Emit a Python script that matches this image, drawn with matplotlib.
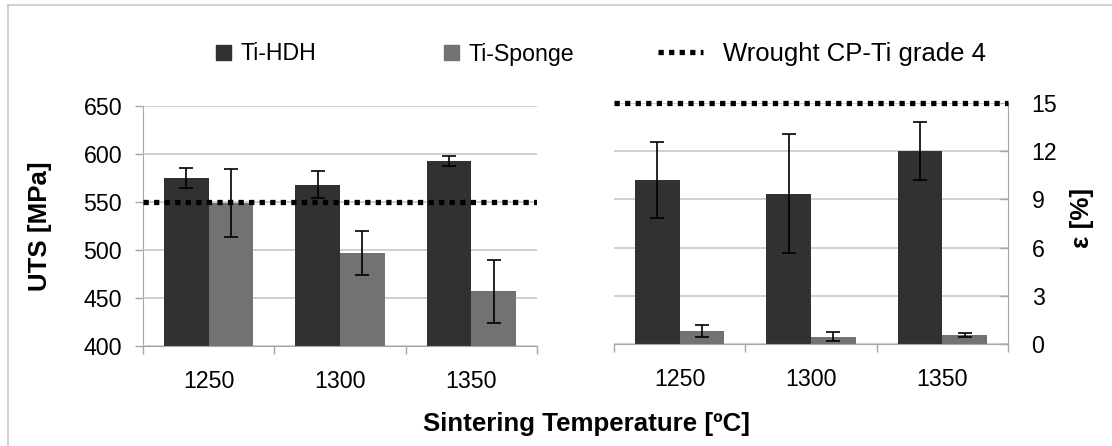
import numpy as np
import matplotlib
matplotlib.use("Agg")
import matplotlib.pyplot as plt
from matplotlib.lines import Line2D
from matplotlib.patches import Patch

plt.rcParams['font.family'] = ['Liberation Sans', 'DejaVu Sans']

# data
temps = ['1250', '1300', '1350']
uts_hdh = [575, 568, 593]
uts_hdh_err = [10, 14, 5]
uts_sponge = [549, 497, 457]
uts_sponge_err = [35, 23, 33]
eps_hdh = [10.2, 9.35, 12.0]
eps_hdh_err = [2.35, 3.7, 1.8]
eps_sponge = [0.82, 0.48, 0.58]
eps_sponge_err = [0.37, 0.26, 0.15]
wrought_uts = 550
wrought_eps = 15

c_hdh = '#313131'
c_sponge = '#727272'
c_grid = '#c4c4c4'
c_spine = '#a6a6a6'
fs = 16.7
fs_lab = 18.6

W, H = 1112, 446
fig = plt.figure(figsize=(W / 100, H / 100), dpi=100)
ax1 = fig.add_axes([143 / W, 1 - 346 / H, 394 / W, 240 / H])
ax2 = fig.add_axes([614 / W, 1 - 344.3 / H, 394 / W, 241.5 / H])

x = np.arange(len(temps))
bw = 0.34
ek = dict(elinewidth=1.2, capthick=1.2, ecolor='black')


def style(ax, side):
    ax.set_xlim(-0.5, len(temps) - 0.5)
    ax.set_xticks(x)
    ax.set_xticklabels(temps)
    ax.set_xticks(np.arange(-0.5, len(temps)), minor=True)
    ax.tick_params(axis='x', which='major', length=0, pad=17, labelsize=fs)
    ax.tick_params(axis='x', which='minor', length=6, width=1, color=c_spine, direction='out')
    ax.grid(axis='y', color=c_grid, lw=1.1)
    ax.set_axisbelow(True)
    for s in ['top', 'left', 'right']:
        ax.spines[s].set_visible(False)
    ax.spines['bottom'].set_color(c_spine)
    ax.spines[side].set_visible(True)
    ax.spines[side].set_color(c_spine)
    ax.spines[side].set_zorder(0.5)


# UTS panel
ax1.bar(x - bw / 2, uts_hdh, bw, color=c_hdh, yerr=uts_hdh_err, capsize=5, error_kw=ek, zorder=2)
ax1.bar(x + bw / 2, uts_sponge, bw, color=c_sponge, yerr=uts_sponge_err, capsize=5, error_kw=ek, zorder=2)
ax1.axhline(wrought_uts, color='black', lw=3.8, ls=(0, (1, 1)), zorder=3)
ax1.set_ylim(400, 650)
ax1.set_yticks(np.arange(400, 651, 50))
style(ax1, 'left')
ax1.tick_params(axis='y', length=6, width=1, color=c_spine, direction='out', pad=9, labelsize=fs)

# elongation panel
ax2.bar(x - bw / 2, eps_hdh, bw, color=c_hdh, yerr=eps_hdh_err, capsize=5, error_kw=ek, zorder=2)
ax2.bar(x + bw / 2, eps_sponge, bw, color=c_sponge, yerr=eps_sponge_err, capsize=5, error_kw=ek, zorder=2)
ax2.axhline(wrought_eps, color='black', lw=3.8, ls=(0, (1, 1)), zorder=3, clip_on=False)
ax2.set_ylim(0, 15)
ax2.set_yticks(np.arange(0, 16, 3))
style(ax2, 'right')
ax2.yaxis.tick_right()
ax2.tick_params(axis='y', length=6, width=1, color=c_spine, direction='in', pad=17, labelsize=fs)

# axis titles
fig.text(40 / W, 1 - 226 / H, 'UTS [MPa]', fontsize=fs_lab, fontweight='bold',
         rotation=90, ha='center', va='center')
fig.text(1082 / W, 1 - 218 / H, 'ε [%]', fontsize=fs_lab, fontweight='bold',
         rotation=90, ha='center', va='center')
fig.text(586 / W, 1 - 424 / H, 'Sintering Temperature [ºC]', fontsize=fs_lab, fontweight='bold',
         ha='center', va='center')

# legend, one entry per box to match spacing
ly = 1 - 54 / H
leg_kw = dict(frameon=False, loc='center left', borderaxespad=0, borderpad=0)
fig.legend([Patch(color=c_hdh)], ['Ti-HDH'], bbox_to_anchor=(216 / W, ly), fontsize=fs,
           handlelength=0.66, handleheight=0.66, handletextpad=0.4, **leg_kw)
fig.legend([Patch(color=c_sponge)], ['Ti-Sponge'], bbox_to_anchor=(444 / W, ly), fontsize=fs,
           handlelength=0.66, handleheight=0.66, handletextpad=0.4, **leg_kw)
fig.legend([Line2D([], [], color='black', lw=3.8, ls=(0, (1, 1)))], ['Wrought CP-Ti grade 4'],
           bbox_to_anchor=(658 / W, ly), fontsize=18.5, handlelength=1.75, handletextpad=0.78,
           **leg_kw)

# frame lines of the original (left and top only)
fig.add_artist(Line2D([8 / W, 8 / W], [0, 1 - 5 / H], color='#c8c8c8', lw=1.2))
fig.add_artist(Line2D([8 / W, 1], [1 - 5 / H, 1 - 5 / H], color='#c8c8c8', lw=1.2))

fig.savefig('out.png', dpi=100)
